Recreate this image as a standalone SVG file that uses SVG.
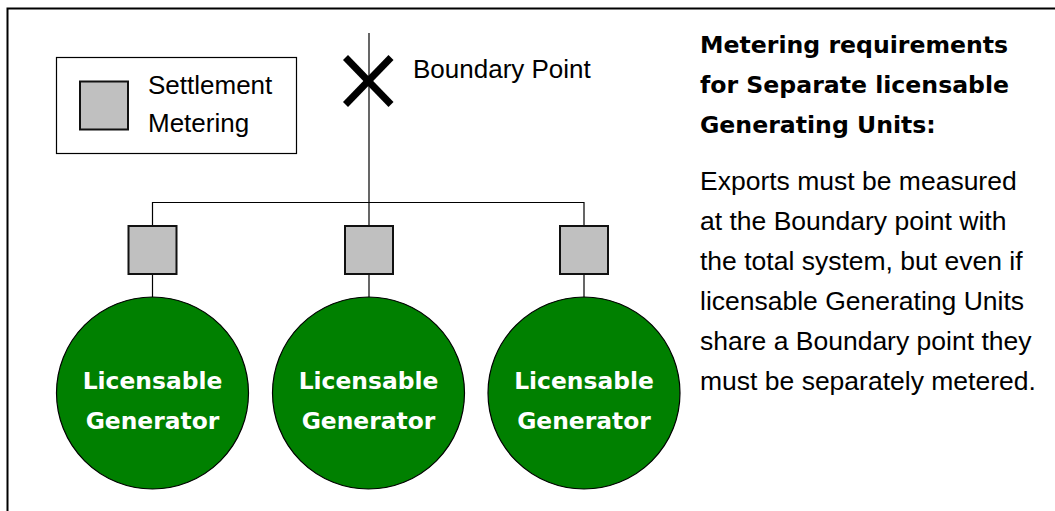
<svg xmlns="http://www.w3.org/2000/svg" width="1055" height="511" viewBox="0 0 1055 511">
<style>
.reg{font-family:"Liberation Sans",Arial,sans-serif;font-size:26px;fill:#000}
.body{font-size:26.5px}
.bold{font-family:"DejaVu Sans","Liberation Sans",sans-serif;font-weight:bold;font-size:23.6px;fill:#000}
.gen{font-family:"DejaVu Sans","Liberation Sans",sans-serif;font-weight:bold;font-size:23.4px;fill:#fff;text-anchor:middle}
.meter{fill:#c0c0c0;stroke:#111;stroke-width:2}
.circ{fill:#008000;stroke:#000;stroke-width:1.2}
.wire{stroke:#000;stroke-width:1.2;fill:none}
</style>
<rect x="0" y="0" width="1055" height="511" fill="#fff"/>
<rect id="frame" x="7.5" y="8.5" width="1060" height="520" fill="none" stroke="#000" stroke-width="2"/>

<g id="legend">
  <rect x="56.5" y="57.5" width="240" height="96" fill="#fff" stroke="#000" stroke-width="1.2"/>
  <rect class="meter" x="80" y="81.5" width="48" height="48"/>
  <text class="reg" x="148" y="93.5">Settlement</text>
  <text class="reg" x="148" y="131.5">Metering</text>
</g>

<g id="connectors">
  <line class="wire" x1="369" y1="33" x2="369" y2="226"/>
  <polyline class="wire" points="152.5,226 152.5,202.5 584,202.5 584,226"/>
  <line class="wire" x1="152.5" y1="274" x2="152.5" y2="297"/>
  <line class="wire" x1="369" y1="274" x2="369" y2="297"/>
  <line class="wire" x1="584" y1="274" x2="584" y2="297"/>
</g>

<g id="boundary-point">
  <line x1="345.5" y1="57.5" x2="391" y2="104.5" stroke="#000" stroke-width="7"/>
  <line x1="391" y1="57.5" x2="345.5" y2="104.5" stroke="#000" stroke-width="7"/>
  <text class="reg" x="413" y="77.5">Boundary Point</text>
</g>

<g id="meter1"><rect class="meter" x="128.5" y="226" width="48" height="48"/></g>
<g id="meter2"><rect class="meter" x="345" y="226" width="48" height="48"/></g>
<g id="meter3"><rect class="meter" x="560" y="226" width="48" height="48"/></g>

<g id="generator1">
  <circle class="circ" cx="152.5" cy="393" r="96"/>
  <text class="gen" x="152.5" y="389">Licensable</text>
  <text class="gen" x="152.5" y="429">Generator</text>
</g>
<g id="generator2">
  <circle class="circ" cx="368.5" cy="393" r="96"/>
  <text class="gen" x="368.5" y="389">Licensable</text>
  <text class="gen" x="368.5" y="429">Generator</text>
</g>
<g id="generator3">
  <circle class="circ" cx="584" cy="393" r="96"/>
  <text class="gen" x="584" y="389">Licensable</text>
  <text class="gen" x="584" y="429">Generator</text>
</g>

<g id="description">
  <text class="bold" x="700" y="53">Metering requirements</text>
  <text class="bold" x="700" y="93">for Separate licensable</text>
  <text class="bold" x="700" y="133">Generating Units:</text>
  <text class="reg body" x="700" y="190">Exports must be measured</text>
  <text class="reg body" x="700" y="230">at the Boundary point with</text>
  <text class="reg body" x="700" y="270">the total system, but even if</text>
  <text class="reg body" x="700" y="310">licensable Generating Units</text>
  <text class="reg body" x="700" y="350">share a Boundary point they</text>
  <text class="reg body" x="700" y="390">must be separately metered.</text>
</g>
</svg>
